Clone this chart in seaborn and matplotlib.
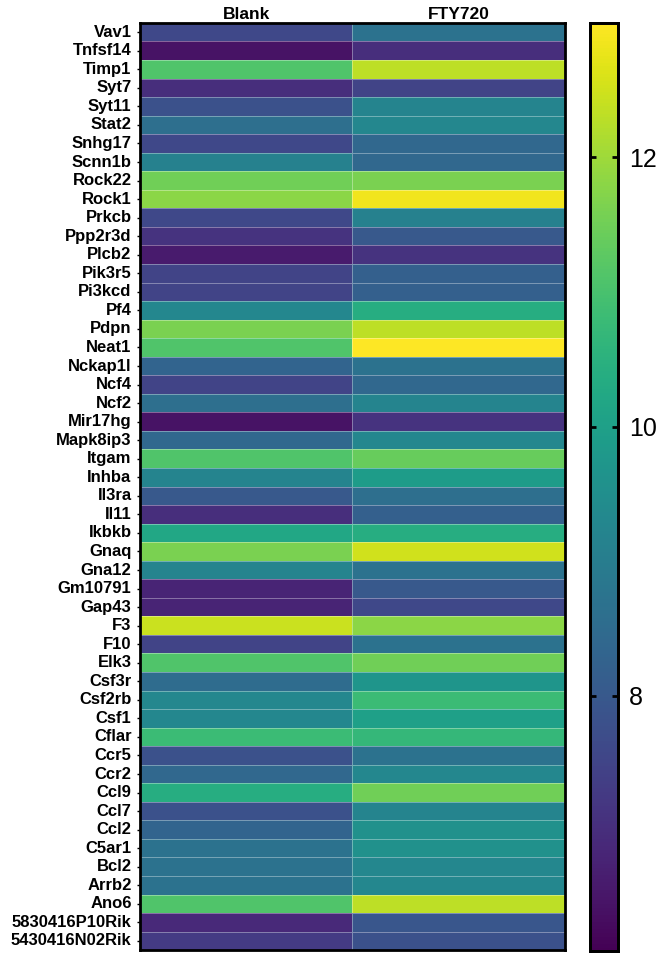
import pandas as pd
import matplotlib
matplotlib.use('Agg')
import matplotlib.pyplot as plt
import seaborn as sns
import numpy as np

# gen isimleri (yukaridan asagiya)
genes = ['Vav1', 'Tnfsf14', 'Timp1', 'Syt7', 'Syt11', 'Stat2', 'Snhg17', 'Scnn1b',
         'Rock22', 'Rock1', 'Prkcb', 'Ppp2r3d', 'Plcb2', 'Pik3r5', 'Pi3kcd', 'Pf4',
         'Pdpn', 'Neat1', 'Nckap1l', 'Ncf4', 'Ncf2', 'Mir17hg', 'Mapk8ip3', 'Itgam',
         'Inhba', 'Il3ra', 'Il11', 'Ikbkb', 'Gnaq', 'Gna12', 'Gm10791', 'Gap43',
         'F3', 'F10', 'Elk3', 'Csf3r', 'Csf2rb', 'Csf1', 'Cflar', 'Ccr5', 'Ccr2',
         'Ccl9', 'Ccl7', 'Ccl2', 'C5ar1', 'Bcl2', 'Arrb2', 'Ano6',
         '5830416P10Rik', '5430416N02Rik']

groups = ['Blank', 'FTY720']

blank = [7.6, 6.45, 11.1, 7.0, 7.8, 8.6, 7.6, 9.1,
         11.5, 11.8, 7.6, 7.1, 6.6, 7.5, 7.5, 9.3,
         11.6, 11.1, 8.3, 7.5, 8.6, 6.45, 8.4, 11.1,
         9.2, 8.0, 7.0, 10.2, 11.6, 9.2, 6.8, 6.8,
         12.45, 7.5, 11.1, 8.5, 9.3, 9.3, 10.8, 7.8, 8.4,
         10.4, 7.8, 8.3, 8.7, 8.7, 8.7, 11.1,
         6.9, 7.3]

fty720 = [8.7, 7.0, 12.3, 7.5, 9.2, 9.3, 8.4, 8.4,
          11.6, 12.85, 9.1, 8.0, 7.1, 8.2, 8.2, 10.4,
          12.3, 13.0, 8.7, 8.4, 9.2, 7.1, 9.3, 11.4,
          9.9, 8.6, 8.2, 10.4, 12.5, 8.7, 8.0, 7.6,
          11.8, 8.7, 11.5, 9.7, 10.8, 10.0, 10.7, 8.7, 9.3,
          11.5, 9.2, 9.55, 9.55, 9.3, 9.3, 12.3,
          7.95, 7.8]

cbar_ticks = [8, 10, 12]

df = pd.DataFrame({'Blank': blank, 'FTY720': fty720}, index=genes)[groups]

plt.rcParams['font.family'] = ['Liberation Sans', 'DejaVu Sans']

fig = plt.figure(figsize=(6.57, 9.55), dpi=100)
ax = fig.add_axes([0.213, 0.005, 0.647, 0.971])
cax = fig.add_axes([0.898, 0.004, 0.043, 0.972])

sns.heatmap(df, ax=ax, cbar_ax=cax, cmap='viridis', vmin=6.1, vmax=13.0,
            linewidths=0.5, linecolor=(1, 1, 1, 0.35),
            cbar_kws={'ticks': cbar_ticks})

# ust eksen etiketleri
ax.xaxis.tick_top()
ax.set_xticklabels(groups, fontsize=12.5, fontweight='bold')
ax.set_yticklabels(genes, fontsize=12, fontweight='bold', rotation=0)
ax.tick_params(axis='x', length=0, pad=1)
ax.tick_params(axis='y', length=2, width=1, pad=4)
ax.set_xlabel('')
ax.set_ylabel('')
for s in ax.spines.values():
    s.set_visible(True)
    s.set_linewidth(2)
    s.set_color('black')

# renk cubugu
cax.tick_params(direction='in', length=4, width=2, left=True, right=True,
                labelsize=18, pad=8)
cax.set_yticklabels([str(t) for t in cbar_ticks])
for s in cax.spines.values():
    s.set_visible(True)
    s.set_linewidth(2)
    s.set_color('black')

plt.savefig('out.png', dpi=100)
